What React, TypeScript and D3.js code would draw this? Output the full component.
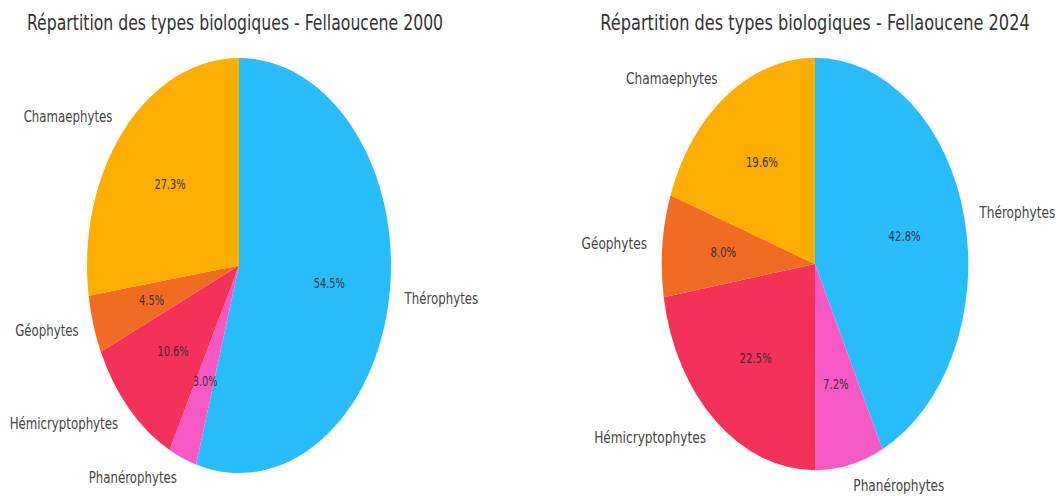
import React from "react";
import * as d3 from "d3";

const categories = ["Thérophytes", "Phanérophytes", "Hémicryptophytes", "Géophytes", "Chamaephytes"];
const values2000 = [54.5, 3.0, 10.6, 4.5, 27.3];
const values2024 = [42.8, 7.2, 22.5, 8.0, 19.6];
const colors = ["#29BCFD", "#F759C4", "#F43158", "#F26B22", "#FEAE00"];
const titles = [
  "Répartition des types biologiques - Fellaoucene 2000",
  "Répartition des types biologiques - Fellaoucene 2024",
];

const FONT = "'DejaVu Sans', sans-serif";

type PieProps = {
  values: number[];
  cx: number;
  cy: number;
  rx: number;
  ry: number;
  tsx: number;
  title: string;
  titleX: number;
};

function Pie({ values, cx, cy, rx, ry, tsx, title, titleX }: PieProps) {
  const pie = d3.pie<number>().sort(null).startAngle(0).endAngle(2 * Math.PI);
  const arcs = pie(values);
  const arc = d3.arc<d3.PieArcDatum<number>>().innerRadius(0).outerRadius(ry);
  const sx = rx / ry;
  return (
    <g>
      <g transform={`translate(${titleX},30) scale(${tsx},1)`}>
        <text x={0} y={0} textAnchor="middle" fontFamily={FONT} fontSize={21.3} fill="#333">
          {title}
        </text>
      </g>
      <g transform={`translate(${cx},${cy}) scale(${sx},1)`}>
        {arcs.map((a, i) => (
          <path key={i} d={arc(a) || ""} fill={colors[i]} />
        ))}
      </g>
      {arcs.map((a, i) => {
        const mid = (a.startAngle + a.endAngle) / 2;
        const lx = cx + 1.1 * rx * Math.sin(mid);
        const ly = cy - 1.1 * ry * Math.cos(mid);
        const px = cx + 0.6 * rx * Math.sin(mid);
        const py = cy - 0.6 * ry * Math.cos(mid);
        return (
          <g key={"t" + i}>
            <g transform={`translate(${lx},${ly}) scale(${tsx},1)`}>
              <text
                textAnchor={lx >= cx ? "start" : "end"}
                dominantBaseline="central"
                fontFamily={FONT}
                fontSize={16}
                fill="#444"
              >
                {categories[i]}
              </text>
            </g>
            <g transform={`translate(${px},${py}) scale(${tsx},1)`}>
              <text
                textAnchor="middle"
                dominantBaseline="central"
                fontFamily={FONT}
                fontSize={13.3}
                fill="#333"
              >
                {values[i].toFixed(1) + "%"}
              </text>
            </g>
          </g>
        );
      })}
    </g>
  );
}

export default function App() {
  return (
    <svg
      width={1060}
      height={496}
      style={{ position: "absolute", left: 0, top: 0, background: "#fff" }}
    >
      <rect width={1060} height={496} fill="#fff" />
      <Pie values={values2000} cx={239} cy={265.5} rx={152} ry={207.5} tsx={0.737} title={titles[0]} titleX={235} />
      <Pie values={values2024} cx={815} cy={264} rx={153.3} ry={206.2} tsx={0.76} title={titles[1]} titleX={815} />
    </svg>
  );
}
